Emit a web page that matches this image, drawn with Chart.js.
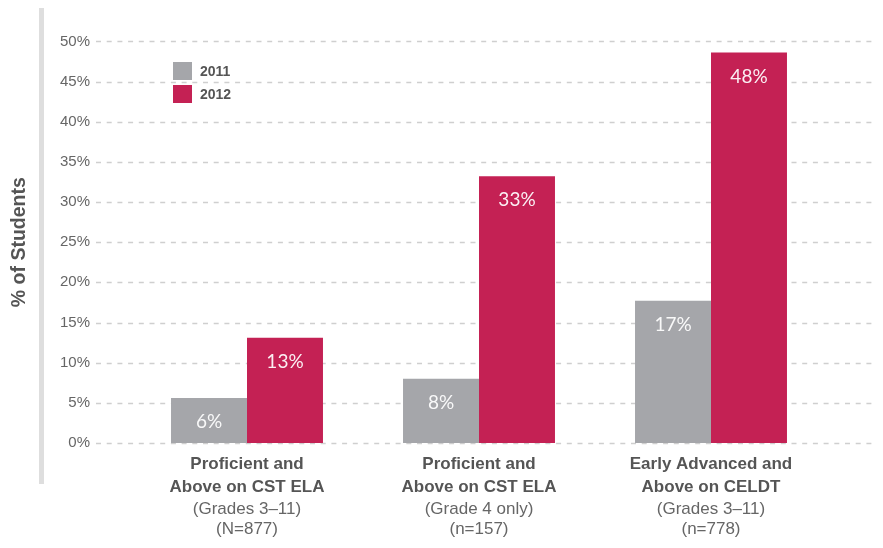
<!DOCTYPE html>
<html>
<head>
<meta charset="utf-8">
<script src="https://cdn.jsdelivr.net/npm/chart.js@4/dist/chart.umd.min.js"></script>
<style>
  html, body { margin: 0; padding: 0; background: #fff; }
  #wrap { position: relative; width: 883px; height: 548px; }
  #legend { position: absolute; left: 173px; top: 59px; font-family: 'Liberation Sans', Arial, sans-serif; font-weight: bold; font-size: 14px; color: #555; }
  #legend .item { display: flex; align-items: center; height: 23px; }
  #legend .sw { width: 19px; height: 18px; margin-right: 8px; }
</style>
</head>
<body>
<div id="wrap">
  <canvas id="c" width="883" height="548"></canvas>
  <div id="legend"></div>
</div>
<script>
// ---- data ----
const categoriesBold = [
  ["Proficient and", "Above on CST ELA"],
  ["Proficient and", "Above on CST ELA"],
  ["Early Advanced and", "Above on CELDT"]
];
const categoriesSub = [
  ["(Grades 3\u201311)", "(N=877)"],
  ["(Grade 4 only)", "(n=157)"],
  ["(Grades 3\u201311)", "(n=778)"]
];
const seriesNames = ["2011", "2012"];
const values2011 = [5.6, 8.0, 17.7];
const values2012 = [13.1, 33.2, 48.6];
const labels2011 = ["6%", "8%", "17%"];
const labels2012 = ["13%", "33%", "48%"];
const yTicksMax = 50;
const yTickStep = 5;
const yTitle = "% of Students";

const colors = ["#a5a6aa", "#c42154"];
const sans = "'Liberation Sans', Arial, sans-serif";

const valueLabels = [labels2011, labels2012];

const sideBar = {
  id: 'sideBar',
  beforeDraw(chart) {
    const ctx = chart.ctx;
    ctx.save();
    ctx.fillStyle = '#dedede';
    ctx.fillRect(39, 8, 5, 476);
    ctx.restore();
  }
};

const dashedGrid = {
  id: 'dashedGrid',
  beforeDatasetsDraw(chart) {
    const ctx = chart.ctx;
    const ys = chart.scales.y;
    ctx.save();
    ctx.strokeStyle = '#cfcfcf';
    ctx.lineWidth = 1.6;
    ctx.setLineDash([5, 5.7]);
    ys.ticks.forEach(t => {
      const y = Math.round(ys.getPixelForValue(t.value)) + 0.5;
      ctx.beginPath();
      ctx.moveTo(96, y);
      ctx.lineTo(875, y);
      ctx.stroke();
    });
    ctx.restore();
  }
};

const barLabels = {
  id: 'barLabels',
  afterDatasetsDraw(chart) {
    const ctx = chart.ctx;
    ctx.save();
    ctx.font = "19px Lato, 'Open Sans', sans-serif";
    ctx.fillStyle = 'rgba(255,255,255,0.93)';
    ctx.textAlign = 'center';
    ctx.textBaseline = 'middle';
    chart.data.datasets.forEach((ds, i) => {
      chart.getDatasetMeta(i).data.forEach((bar, j) => {
        ctx.fillText(valueLabels[i][j], bar.x, bar.y + 24);
      });
    });
    ctx.restore();
  }
};

const chart = new Chart(document.getElementById('c'), {
  type: 'bar',
  data: {
    labels: categoriesBold,
    datasets: [
      { label: seriesNames[0], data: values2011, backgroundColor: colors[0] },
      { label: seriesNames[1], data: values2012, backgroundColor: colors[1] }
    ]
  },
  options: {
    responsive: false,
    devicePixelRatio: 1,
    animation: false,
    categoryPercentage: 0.655,
    barPercentage: 1.0,
    layout: { padding: { left: 8, right: 56, top: 41, bottom: 10 } },
    plugins: {
      legend: { display: false },
      tooltip: { enabled: false }
    },
    scales: {
      x: {
        type: 'category',
        position: 'bottom',
        offset: true,
        grid: { display: false, drawTicks: false },
        border: { display: false },
        afterFit(scale) { scale.height = 55; },
        ticks: {
          padding: 10,
          maxRotation: 0,
          autoSkip: false,
          color: '#555',
          font: { family: sans, size: 17, weight: 'bold', lineHeight: 1.35 }
        }
      },
      x2: {
        type: 'category',
        position: 'bottom',
        offset: true,
        labels: categoriesSub,
        grid: { display: false, drawTicks: false },
        border: { display: false },
        afterFit(scale) { scale.height = 40; },
        ticks: {
          padding: 1,
          maxRotation: 0,
          autoSkip: false,
          color: '#666',
          font: { family: sans, size: 17, weight: 'normal', lineHeight: 1.18 }
        }
      },
      y: {
        min: 0,
        max: yTicksMax,
        grid: { display: false, drawTicks: false },
        border: { display: false },
        afterFit(scale) { scale.width = 123; },
        ticks: {
          stepSize: yTickStep,
          padding: 41,
          autoSkip: false,
          color: '#666',
          font: { family: sans, size: 15, lineHeight: 0.05 },
          callback: v => v + '%'
        },
        title: {
          display: true,
          text: yTitle,
          color: '#555',
          padding: 0,
          font: { family: sans, size: 19.5, weight: 'bold' }
        }
      }
    }
  },
  plugins: [sideBar, dashedGrid, barLabels]
});

// HTML legend built from datasets
const lg = document.getElementById('legend');
chart.data.datasets.forEach(ds => {
  const it = document.createElement('div');
  it.className = 'item';
  const sw = document.createElement('span');
  sw.className = 'sw';
  sw.style.background = ds.backgroundColor;
  const tx = document.createElement('span');
  tx.textContent = ds.label;
  it.appendChild(sw); it.appendChild(tx);
  lg.appendChild(it);
});
</script>
</body>
</html>
